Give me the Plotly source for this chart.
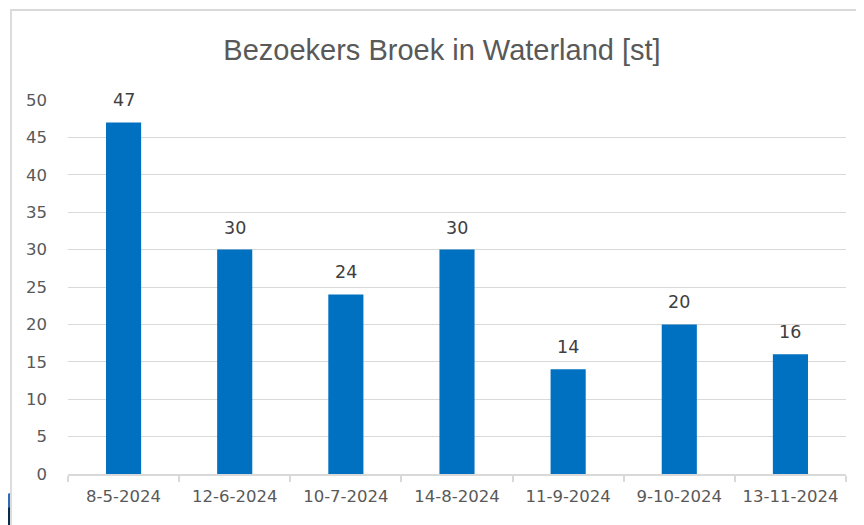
import plotly.graph_objects as go

categories = ["8-5-2024", "12-6-2024", "10-7-2024", "14-8-2024", "11-9-2024", "9-10-2024", "13-11-2024"]
visitors = [47, 30, 24, 30, 14, 20, 16]
y_ticks = [0, 5, 10, 15, 20, 25, 30, 35, 40, 45, 50]
title_text = "Bezoekers Broek in Waterland [st]"

W, H = 864, 525
OFF = 8  # page body margin offset
# target page pixel positions of plot area
PL, PR, PT, PB = 68, 846, 100, 474
L, R, T, B = PL - OFF, PR - OFF, PT - OFF, PB - OFF


def px_x(px):
    return (px - PL) / (PR - PL)


def px_y(py):
    return (PB - py) / (PB - PT)


TICK_FONT = "DejaVu Sans, Verdana, sans-serif"

fig = go.Figure(go.Bar(
    x=categories, y=visitors,
    marker=dict(color="#0070C0", line=dict(width=0)),
    cliponaxis=False, width=0.316,
))

annotations = [
    dict(x=c, y=v, xref="x", yref="y", text=str(v), showarrow=False,
         yanchor="middle", xanchor="center", yshift=22,
         font=dict(family=TICK_FONT, size=17.5, color="#404040"))
    for c, v in zip(categories, visitors)
]

fig.update_layout(
    width=W, height=H,
    margin=dict(l=L, r=W - R, t=T, b=H - B, autoexpand=False),
    paper_bgcolor="white", plot_bgcolor="white",
    showlegend=False,
    title=dict(text=title_text, x=px_x(442), xref="paper", xanchor="center",
               y=1 - (50 - OFF) / H, yref="container", yanchor="middle",
               font=dict(family="Liberation Sans, Arial, sans-serif", size=29, color="#595959")),
    font=dict(family=TICK_FONT, color="#595959"),
    xaxis=dict(type="category", showgrid=False, showline=True, linecolor="#d9d9d9", linewidth=1.5,
               ticks="outside", tickson="boundaries", ticklen=6, tickcolor="#d9d9d9", tickwidth=1.5,
               tickfont=dict(family=TICK_FONT, size=16.5, color="#595959"), range=[-0.5, 6.5],
               ticklabelstandoff=6, fixedrange=True),
    yaxis=dict(range=[0, 50], tickvals=y_ticks, showgrid=True, gridcolor="#d9d9d9", gridwidth=1.2,
               zeroline=False, showline=False, ticks="",
               tickfont=dict(family=TICK_FONT, size=16.5, color="#595959"),
               ticklabelstandoff=20),
    bargap=0.684,
    annotations=annotations,
    shapes=[
        dict(type="rect", xref="paper", yref="paper",
             x0=px_x(11), x1=px_x(890), y0=px_y(545), y1=px_y(10),
             line=dict(color="#d9d9d9", width=1.8), fillcolor="rgba(0,0,0,0)", layer="below"),
        dict(type="path", xref="paper", yref="paper",
             path=f"M {px_x(0)} {px_y(497)} L {px_x(10)} {px_y(493)} L {px_x(10)} {px_y(535)} L {px_x(0)} {px_y(535)} Z",
             fillcolor="#2e6db4", line=dict(width=0)),
        dict(type="path", xref="paper", yref="paper",
             path=f"M {px_x(0)} {px_y(512)} L {px_x(10)} {px_y(507)} L {px_x(10)} {px_y(535)} L {px_x(0)} {px_y(535)} Z",
             fillcolor="#0b2a4a", line=dict(width=0)),
    ],
)

fig.write_html("out.html")
